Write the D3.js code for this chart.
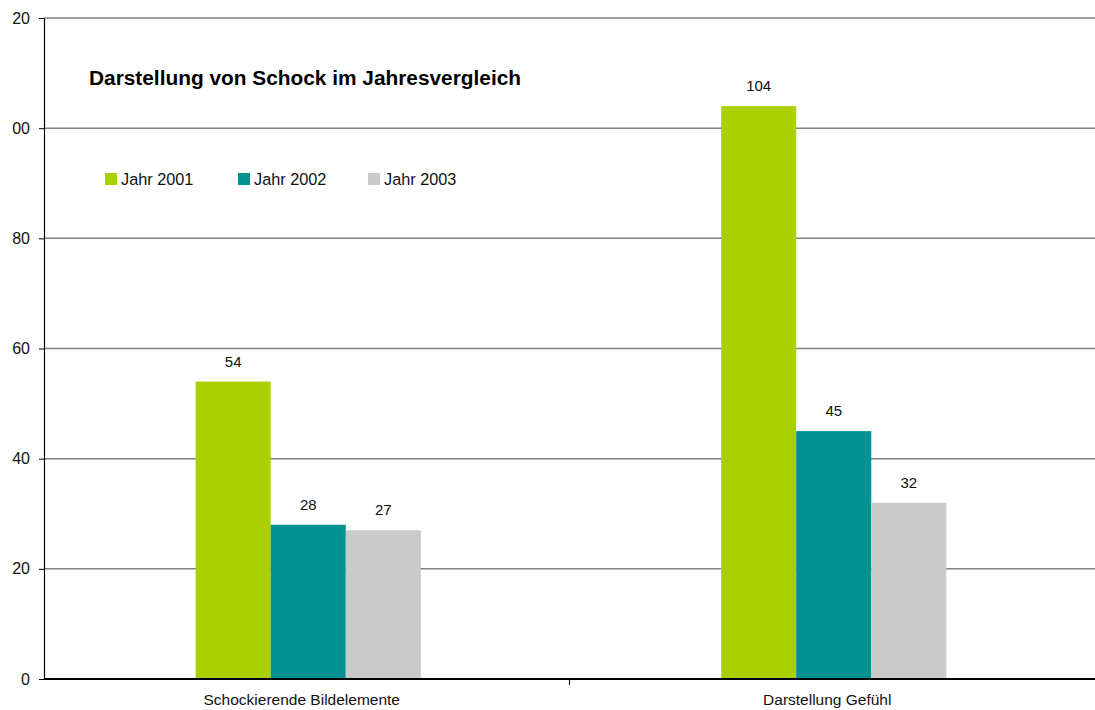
<!DOCTYPE html>
<html>
<head>
<meta charset="utf-8">
<script src="https://cdn.jsdelivr.net/npm/d3@7"></script>
<style>
  html, body { margin: 0; padding: 0; background: #fff; }
  svg { display: block; font-family: "Liberation Sans", Arial, sans-serif; }
</style>
</head>
<body>
<svg id="chart" width="1095" height="710"></svg>
<script>
// Chart data
const categories = ["Schockierende Bildelemente", "Darstellung Gefühl"];
const years = ["Jahr 2001", "Jahr 2002", "Jahr 2003"];
const values2001 = [54, 104];
const values2002 = [28, 45];
const values2003 = [27, 32];
const yTicks = [0, 20, 40, 60, 80, 100, 120];
const colors = ["#aad000", "#009191", "#cacaca"];
const title = "Darstellung von Schock im Jahresvergleich";

const series = [values2001, values2002, values2003];
const rows = categories.map((c, i) => ({
  category: c,
  bars: years.map((y, j) => ({ year: y, value: series[j][i], color: colors[j] }))
}));

const svg = d3.select("#chart");
const plotLeft = 44, plotRight = 1095, plotTop = 18, plotBottom = 679;

const x = d3.scaleBand().domain(categories).range([plotLeft, plotRight]).padding(0);
const xInner = d3.scaleBand().domain(years).range([0, x.bandwidth()])
  .paddingInner(0).paddingOuter(2);
const y = d3.scaleLinear().domain([0, 120]).range([plotBottom, plotTop]);

// clip for the y tick labels: the frame cuts them off at its left edge
svg.append("defs").append("clipPath").attr("id", "yclip")
  .append("rect").attr("x", 12).attr("y", 0).attr("width", 200).attr("height", 710);

// horizontal gridlines
svg.append("g")
  .selectAll("line")
  .data(yTicks.filter(d => d > 0))
  .join("line")
  .attr("x1", plotLeft).attr("x2", plotRight)
  .attr("y1", d => y(d)).attr("y2", d => y(d))
  .attr("stroke", "#828282").attr("stroke-width", 1.5);

// bars
const groups = svg.append("g")
  .selectAll("g")
  .data(rows)
  .join("g")
  .attr("transform", d => `translate(${x(d.category) + 1.5},0)`);

groups.selectAll("rect")
  .data(d => d.bars)
  .join("rect")
  .attr("x", d => xInner(d.year))
  .attr("width", xInner.bandwidth())
  .attr("y", d => y(d.value))
  .attr("height", d => y(0) - y(d.value))
  .attr("fill", d => d.color);

// value labels
groups.selectAll("text")
  .data(d => d.bars)
  .join("text")
  .attr("x", d => xInner(d.year) + xInner.bandwidth() / 2)
  .attr("y", d => y(d.value) - 15)
  .attr("text-anchor", "middle")
  .attr("font-size", 15)
  .attr("fill", "#111")
  .text(d => d.value);

// y axis
const yAxisWrap = svg.append("g").attr("clip-path", "url(#yclip)");
const yAxis = yAxisWrap.append("g")
  .attr("transform", `translate(${plotLeft},0)`)
  .call(d3.axisLeft(y).tickValues(yTicks).tickSize(5).tickPadding(9).tickSizeOuter(0));
yAxis.select(".domain").attr("stroke", "#000").attr("stroke-width", 1.2);
yAxis.selectAll(".tick line").attr("stroke", "#000");
yAxis.selectAll(".tick text")
  .attr("font-size", 16).attr("fill", "#111")
  .attr("font-family", "Liberation Sans, Arial, sans-serif");

// x axis
const xAxis = svg.append("g")
  .attr("transform", `translate(0,${plotBottom})`);
xAxis.append("line")
  .attr("x1", plotLeft).attr("x2", plotRight)
  .attr("stroke", "#000").attr("stroke-width", 2);
xAxis.selectAll("line.tick")
  .data([plotLeft + x.step()])
  .join("line").attr("class", "tick")
  .attr("x1", d => d).attr("x2", d => d)
  .attr("y1", 0).attr("y2", 6)
  .attr("stroke", "#000");
xAxis.selectAll("text")
  .data(categories)
  .join("text")
  .attr("x", d => x(d) + x.bandwidth() / 2 - 5)
  .attr("y", 26)
  .attr("text-anchor", "middle")
  .attr("font-size", 15.5)
  .attr("fill", "#111")
  .text(d => d);

// title
svg.append("text")
  .attr("x", 89).attr("y", 85)
  .attr("font-size", 20).attr("font-weight", "bold")
  .attr("textLength", 432).attr("lengthAdjust", "spacingAndGlyphs")
  .attr("fill", "#000")
  .text(title);

// legend
const legendX = [105, 238, 368];
const legend = svg.append("g")
  .selectAll("g")
  .data(years)
  .join("g")
  .attr("transform", (d, i) => `translate(${legendX[i]},173)`);
legend.append("rect")
  .attr("width", 12).attr("height", 12)
  .attr("fill", (d, i) => colors[i]);
legend.append("text")
  .attr("x", 16).attr("y", 11.5)
  .attr("font-size", 16.3).attr("fill", "#111")
  .text(d => d);
</script>
</body>
</html>
